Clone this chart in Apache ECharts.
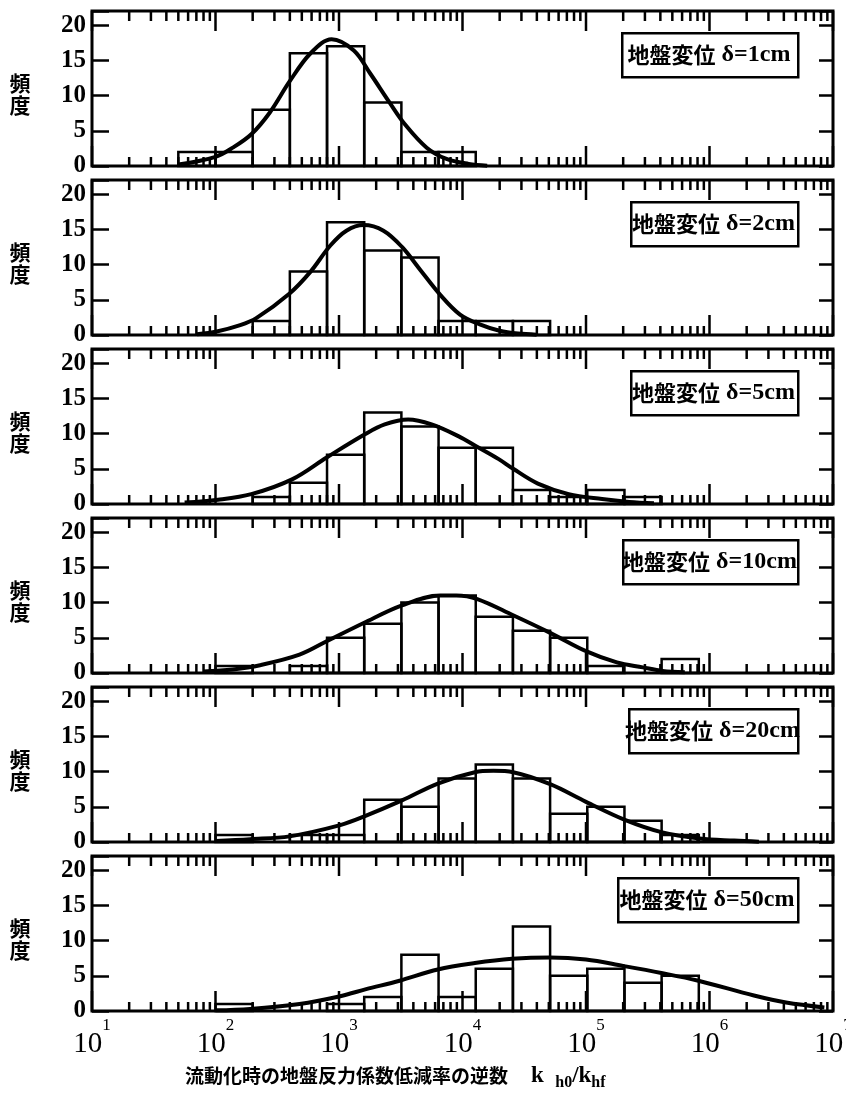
<!DOCTYPE html>
<html><head><meta charset="utf-8">
<script src="https://cdn.jsdelivr.net/npm/echarts@6/dist/echarts.min.js"></script>
<style>html,body{margin:0;padding:0;background:#fff}#c{width:846px;height:1093px}</style>
</head><body><div id="c"></div>
<script>
// ---- data ----
// histogram bin edges (k_h0/k_hf), each bin spans binEdges[i]..binEdges[i+1]
const binEdges = [50, 100, 200, 400, 800, 1600, 3200, 6400, 12800, 25600, 51200, 102400, 204800, 409600, 819200];
const counts1 = [2, 2, 8, 16, 17, 9, 2, 2, 0, 0, 0, 0, 0, 0];
const counts2 = [0, 0, 2, 9, 16, 12, 11, 2, 2, 2, 0, 0, 0, 0];
const counts3 = [0, 0, 1, 3, 7, 13, 11, 8, 8, 2, 1, 2, 1, 0];
const counts4 = [0, 1, 0, 1, 5, 7, 10, 11, 8, 6, 5, 1, 0, 2];
const counts5 = [0, 1, 0, 1, 1, 6, 5, 9, 11, 9, 4, 5, 3, 1];
const counts6 = [0, 1, 0, 0, 1, 2, 8, 2, 6, 12, 5, 6, 4, 5];
// fitted curves: points (log10 of x, frequency)
const curveLog1 = [1.7, 2.0, 2.14, 2.29, 2.44, 2.60, 2.77, 2.94, 3.12, 3.25, 3.41, 3.53, 3.71, 3.87, 4.05, 4.2];
const curveVal1 = [0.2, 1.3, 2.6, 4.5, 7.6, 12.0, 16.0, 18.0, 16.4, 13.2, 9.0, 6.0, 2.6, 1.0, 0.3, 0.05];
const curveLog2 = [1.85, 2.01, 2.20, 2.33, 2.60, 2.77, 2.93, 3.06, 3.20, 3.36, 3.51, 3.66, 3.82, 3.98, 4.14, 4.30, 4.45, 4.6];
const curveVal2 = [0.1, 0.5, 1.4, 2.4, 5.9, 9.0, 12.7, 14.8, 15.6, 14.8, 12.5, 9.2, 5.7, 2.9, 1.5, 0.6, 0.2, 0.05];
const curveLog3 = [1.75, 2.02, 2.29, 2.62, 2.90, 3.21, 3.37, 3.56, 3.75, 3.97, 4.11, 4.29, 4.41, 4.61, 4.86, 5.13, 5.35, 5.55];
const curveVal3 = [0.2, 0.6, 1.4, 3.5, 6.6, 9.9, 11.3, 12.0, 11.3, 9.6, 8.2, 6.4, 5.0, 2.9, 1.4, 0.7, 0.3, 0.1];
const curveLog4 = [1.9, 2.14, 2.36, 2.68, 2.90, 3.20, 3.51, 3.82, 3.95, 4.12, 4.41, 4.71, 5.0, 5.25, 5.46, 5.62, 5.8];
const curveVal4 = [0.2, 0.5, 1.1, 2.6, 4.5, 7.1, 9.6, 11.0, 11.0, 10.5, 8.2, 5.7, 3.1, 1.5, 0.8, 0.3, 0.1];
const curveLog5 = [2.0, 2.28, 2.60, 3.01, 3.20, 3.51, 3.80, 4.10, 4.25, 4.41, 4.71, 5.0, 5.32, 5.61, 5.92, 6.2, 6.4];
const curveVal5 = [0.15, 0.4, 0.8, 2.4, 3.6, 5.9, 8.3, 9.9, 10.1, 9.9, 8.2, 5.7, 3.1, 1.4, 0.5, 0.2, 0.05];
const curveLog6 = [2.0, 2.28, 2.68, 3.01, 3.22, 3.49, 3.80, 4.10, 4.40, 4.71, 5.0, 5.30, 5.61, 5.91, 6.36, 6.62, 6.93];
const curveVal6 = [0.1, 0.3, 1.0, 2.1, 3.1, 4.3, 5.9, 6.8, 7.4, 7.6, 7.3, 6.4, 5.4, 4.3, 2.2, 1.2, 0.5];
const deltaLabels = ['1cm', '2cm', '5cm', '10cm', '20cm', '50cm'];
const decades = [10, 100, 1000, 10000, 100000, 1000000, 10000000];
const minorMultipliers = [2, 3, 4, 5, 6, 7, 8, 9];
const yLabelTitle = '頻\n度';
const xTitleMain = '流動化時の地盤反力係数低減率の逆数';

// ---- layout ----
const tops = [11, 180, 349, 518, 687, 856];
const H = 155, L = 92, R = 13;
const boxLefts = [621, 630, 630, 622, 628, 617];
const boxRight = 797, boxOffset = 21, boxH = 44;
const serif = "'Liberation Serif','Times New Roman',serif";
const cjk = "'Noto Sans CJK JP','Noto Sans CJK SC',sans-serif";
const YMAX = 22;

const panelCounts = [counts1, counts2, counts3, counts4, counts5, counts6];
const panelCurveLog = [curveLog1, curveLog2, curveLog3, curveLog4, curveLog5, curveLog6];
const panelCurveVal = [curveVal1, curveVal2, curveVal3, curveVal4, curveVal5, curveVal6];

// axis decoration ticks
const tickData = [];
decades.forEach(function (d) {
  tickData.push([d, 1]);
  if (d < 10000000) minorMultipliers.forEach(function (m) { tickData.push([d * m, 0]); });
});

function tickRender(params, api) {
  const v = api.value(0), major = api.value(1);
  const pb = api.coord([v, 0]);
  const pt = api.coord([v, YMAX]);
  const lb = major ? 20 : 9;
  const lt = major ? 20 : 10;
  return {
    type: 'group', children: [
      { type: 'line', shape: { x1: pb[0], y1: pb[1], x2: pb[0], y2: pb[1] - lb }, style: { stroke: '#000', lineWidth: 2.5 } },
      { type: 'line', shape: { x1: pt[0], y1: pt[1], x2: pt[0], y2: pt[1] + lt }, style: { stroke: '#000', lineWidth: 2.5 } }
    ]
  };
}
function barRender(params, api) {
  const a = api.coord([api.value(0), api.value(2)]);
  const b = api.coord([api.value(1), 0]);
  return {
    type: 'rect',
    shape: { x: a[0], y: a[1], width: b[0] - a[0], height: b[1] - a[1] },
    style: { fill: 'none', stroke: '#000', lineWidth: 2.5 }
  };
}

const grid = [], xAxis = [], yAxis = [], series = [], graphic = [];
for (let i = 0; i < 6; i++) {
  grid.push({ left: L, right: R, top: tops[i], height: H, show: true, borderColor: '#000', borderWidth: 3,
    backgroundColor: 'transparent', containLabel: false, outerBoundsMode: 'none' });
  const isBottom = i === 5;
  xAxis.push({
    gridIndex: i, type: 'log', logBase: 10, min: 10, max: 10000000, splitNumber: 6, interval: 1,
    axisLine: { show: false }, axisTick: { show: false }, splitLine: { show: false }, minorTick: { show: false },
    axisLabel: {
      show: isBottom, margin: 6, color: '#000', hideOverlap: false,
      formatter: function (v) { return '{b|10}{s|' + Math.round(Math.log10(v)) + '}'; },
      rich: {
        b: { fontFamily: serif, fontSize: 29, color: '#000', lineHeight: 42, verticalAlign: 'bottom' },
        s: { fontFamily: serif, fontSize: 17, color: '#000', verticalAlign: 'top', lineHeight: 18 }
      }
    }
  });
  yAxis.push({
    gridIndex: i, type: 'value', min: 0, max: YMAX, interval: 5, position: 'left',
    axisLine: { show: false }, splitLine: { show: false },
    axisTick: { show: true, inside: true, length: 17, lineStyle: { color: '#000', width: 2.5 } },
    axisLabel: {
      color: '#000', fontFamily: serif, fontSize: 25, fontWeight: 'bold', margin: 6,
      formatter: function (v) { return v % 5 === 0 ? String(v) : ''; }
    }
  });
  yAxis.push({
    gridIndex: i, type: 'value', min: 0, max: YMAX, interval: 5, position: 'right',
    axisLine: { show: false }, splitLine: { show: false },
    axisTick: { show: true, inside: true, length: 14, lineStyle: { color: '#000', width: 2.5 } },
    axisLabel: { show: false }
  });

  const counts = panelCounts[i];
  const barData = [];
  counts.forEach(function (c, k) { if (c > 0) barData.push([binEdges[k], binEdges[k + 1], c]); });
  series.push({
    type: 'custom', xAxisIndex: i, yAxisIndex: 2 * i, renderItem: barRender,
    encode: { x: [0, 1], y: 2 }, data: barData, z: 3, silent: true, clip: false
  });
  series.push({
    type: 'custom', xAxisIndex: i, yAxisIndex: 2 * i, renderItem: tickRender,
    encode: { x: 0, y: 1 }, data: tickData, z: 2, silent: true, clip: false
  });
  const cl = panelCurveLog[i], cv = panelCurveVal[i];
  series.push({
    type: 'line', xAxisIndex: i, yAxisIndex: 2 * i, smooth: 0.35, showSymbol: false, symbol: 'none',
    lineStyle: { color: '#000', width: 4 }, z: 4, silent: true,
    data: cl.map(function (l, k) { return [Math.pow(10, l), cv[k]]; })
  });

  // y-axis title (vertical stacked characters)
  graphic.push({
    type: 'text', z: 11, x: 20, y: tops[i] + H / 2 + 6,
    style: {
      text: yLabelTitle, align: 'center', verticalAlign: 'middle',
      font: "bold 21px 'Noto Sans CJK JP','Noto Sans CJK SC',sans-serif", lineHeight: 22, fill: '#000'
    }
  });

  const bx = boxLefts[i], by = tops[i] + boxOffset;
  graphic.push({
    type: 'rect', left: bx, top: by, z: 10,
    shape: { width: boxRight - bx, height: boxH },
    style: { fill: '#fff', stroke: '#000', lineWidth: 2.5 }
  });
  graphic.push({
    type: 'text', z: 11,
    x: (bx + boxRight) / 2, y: by + boxH / 2 + 1,
    style: {
      text: '{j|地盤変位}{g| δ=' + deltaLabels[i] + '}',
      align: 'center', verticalAlign: 'middle',
      rich: {
        j: { fontFamily: cjk, fontSize: 22, fontWeight: 'bold', fill: '#000', color: '#000' },
        g: { fontFamily: serif, fontSize: 24, fontWeight: 'bold', fill: '#000', color: '#000' }
      }
    }
  });
}

graphic.push({
  type: 'text', z: 11, x: 185, y: 1076,
  style: {
    text: '{j|' + xTitleMain + '}{k|　k  }{sub|h0}{k|/k}{sub|hf}',
    align: 'left', verticalAlign: 'middle',
    rich: {
      j: { fontFamily: cjk, fontSize: 19, fontWeight: 'bold', lineHeight: 30, fill: '#000', color: '#000' },
      k: { fontFamily: serif, fontSize: 23, fontWeight: 'bold', lineHeight: 30, fill: '#000', color: '#000' },
      sub: { fontFamily: serif, fontSize: 16, fontWeight: 'bold', lineHeight: 20, verticalAlign: 'bottom', fill: '#000', color: '#000' }
    }
  }
});

const chart = echarts.init(document.getElementById('c'), null, { renderer: 'canvas' });
chart.setOption({
  animation: false,
  backgroundColor: '#fff',
  grid: grid, xAxis: xAxis, yAxis: yAxis, series: series, graphic: graphic
});
</script>
</body></html>
